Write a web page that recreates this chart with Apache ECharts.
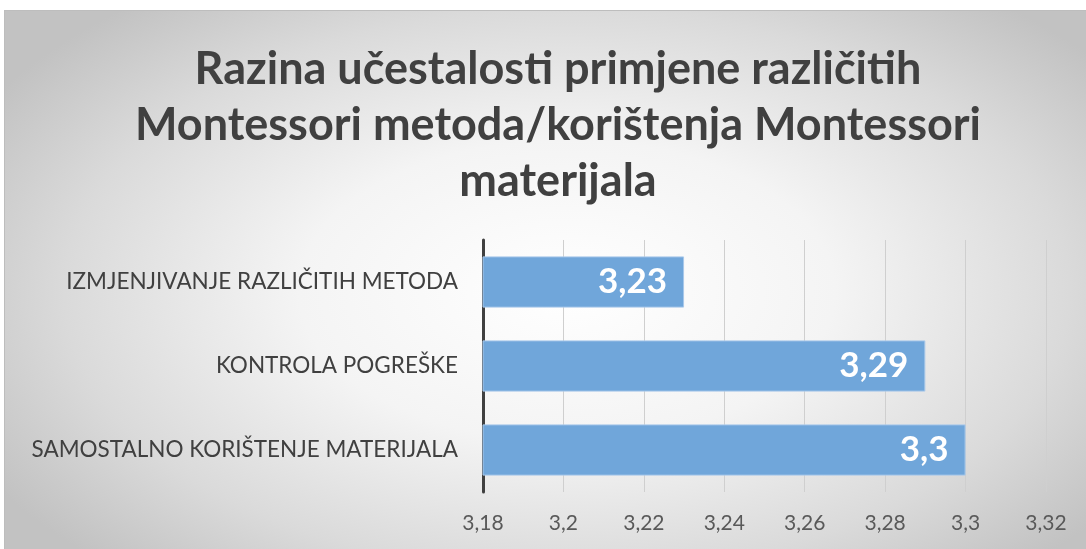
<!DOCTYPE html>
<html>
<head>
<meta charset="utf-8">
<script src="https://cdn.jsdelivr.net/npm/echarts@6/dist/echarts.min.js"></script>
<style>
  html, body { margin: 0; padding: 0; background: #fff; }
  #wrap { position: relative; width: 1086px; height: 549px; overflow: hidden; }
  #bg {
    position: absolute; left: 4px; top: 10px; width: 1082px; height: 539px;
    box-sizing: border-box; border-top: 1px solid #bdbdbd; border-left: 1px solid #bdbdbd;
    background: radial-gradient(ellipse 62% 70% at 52% 52%, #ffffff 0%, #f4f4f4 40%, #dadada 75%, #c2c2c2 100%);
  }
  #chart { position: absolute; left: 0; top: 0; width: 1086px; height: 549px; }
</style>
</head>
<body>
<div id="wrap">
  <div id="bg"></div>
  <div id="chart"></div>
</div>
<script>
// kategorije odozgo prema dolje
const categories = [
  "IZMJENJIVANJE RAZLIČITIH METODA",
  "KONTROLA POGREŠKE",
  "SAMOSTALNO KORIŠTENJE MATERIJALA"
];
const values = [3.23, 3.29, 3.3];
const axisMin = 3.18;
const axisMax = 3.32;
const axisStep = 0.02;

const titleText = "Razina učestalosti primjene različitih\nMontessori metoda/korištenja Montessori\nmaterijala";

// decimalni zarez umjesto točke
const fmt = v => String(+(+v).toFixed(2)).replace(".", ",");

const myChart = echarts.init(document.getElementById("chart"));

const option = {
  backgroundColor: "transparent",
  animation: false,
  title: {
    text: titleText,
    left: 553,
    textAlign: "center",
    top: 36,
    textStyle: {
      fontFamily: "Lato",
      fontWeight: "bold",
      fontSize: 45,
      lineHeight: 56,
      color: "#404040"
    }
  },
  grid: {
    left: 483,
    right: 40,
    top: 240,
    bottom: 57
  },
  xAxis: {
    type: "value",
    min: axisMin,
    max: axisMax,
    interval: axisStep,
    axisLine: { show: false },
    axisTick: { show: false },
    splitLine: { lineStyle: { color: "#cfcfcf", width: 1 } },
    axisLabel: {
      margin: 21,
      fontFamily: "Lato",
      fontSize: 21,
      color: "#595959",
      formatter: fmt
    }
  },
  yAxis: {
    type: "category",
    inverse: true,
    data: categories,
    axisLine: { show: true, lineStyle: { color: "#404040", width: 3 } },
    axisTick: { show: false },
    axisLabel: {
      margin: 25,
      fontFamily: "Lato",
      fontSize: 22.5,
      color: "#404040"
    }
  },
  series: [
    {
      type: "bar",
      data: values,
      barCategoryGap: "39%",
      itemStyle: {
        color: "#70a6da",
        borderColor: "#a8c8ea",
        borderWidth: 1
      },
      label: {
        show: true,
        position: "insideRight",
        distance: 17,
        fontFamily: "Lato",
        fontWeight: "bold",
        fontSize: 35,
        color: "#ffffff",
        formatter: p => fmt(p.value)
      }
    }
  ]
};

myChart.setOption(option);
</script>
</body>
</html>
